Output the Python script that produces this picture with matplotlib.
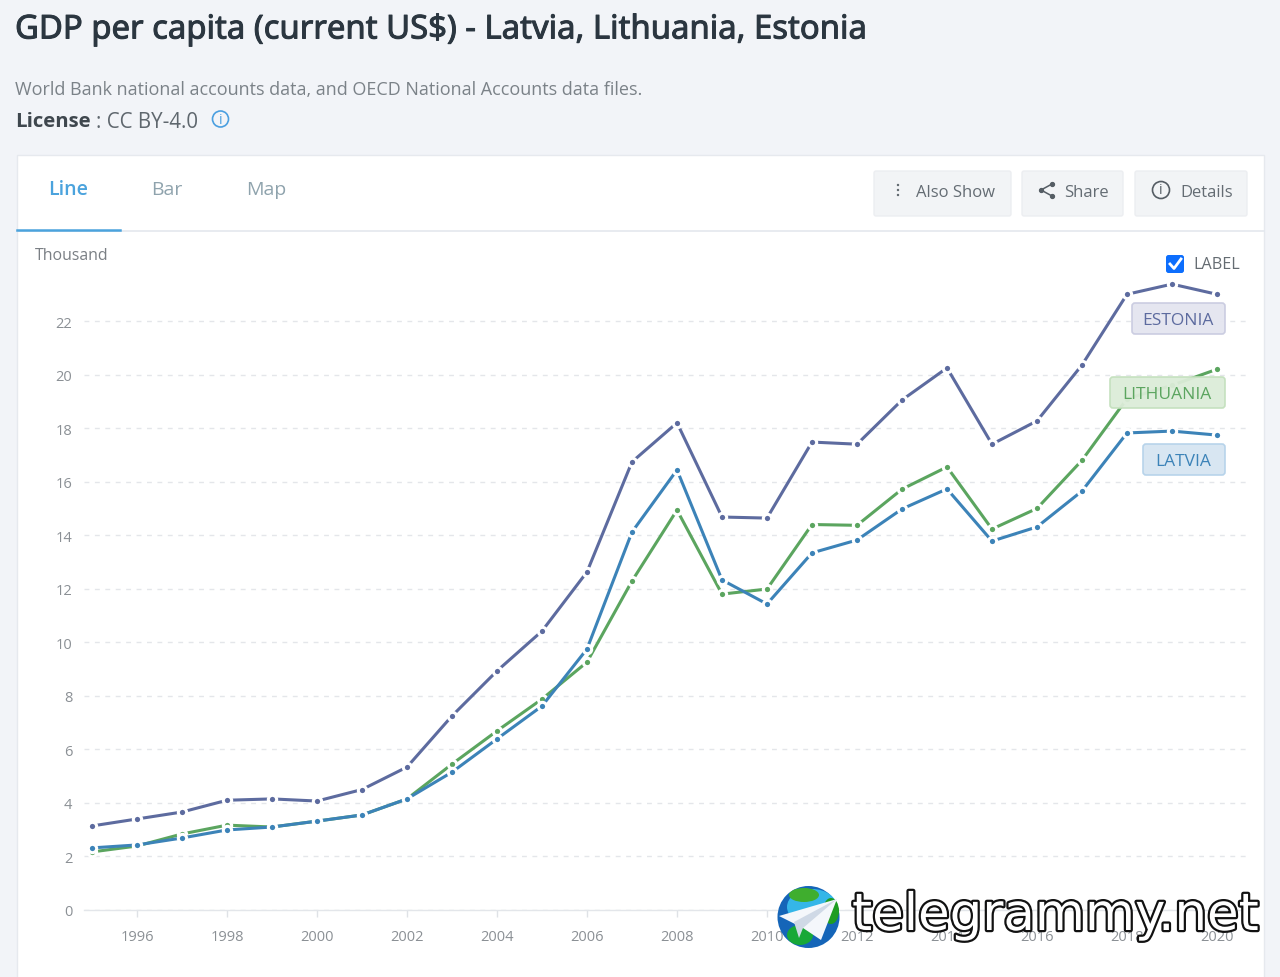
import matplotlib
matplotlib.use("Agg")
import matplotlib.pyplot as plt
import matplotlib.patheffects as pe
from matplotlib.patches import FancyBboxPatch, Rectangle, Circle, Polygon, Ellipse
from matplotlib.lines import Line2D

years = list(range(1995, 2021))
estonia = [3.14, 3.40, 3.66, 4.10, 4.15, 4.07, 4.50, 5.34, 7.25, 8.93, 10.42, 12.63, 16.74,
           18.20, 14.68, 14.64, 17.48, 17.40, 19.05, 20.25, 17.40, 18.27, 20.36, 23.00, 23.38, 23.00]
lithuania = [2.17, 2.39, 2.84, 3.17, 3.10, 3.32, 3.55, 4.15, 5.45, 6.69, 7.88, 9.26, 12.29,
             14.94, 11.80, 11.99, 14.40, 14.37, 15.72, 16.55, 14.23, 15.00, 16.80, 19.10, 19.60, 20.20]
latvia = [2.32, 2.43, 2.69, 2.99, 3.10, 3.32, 3.55, 4.15, 5.15, 6.39, 7.62, 9.75, 14.12,
          16.44, 12.33, 11.43, 13.34, 13.82, 14.98, 15.73, 13.78, 14.31, 15.65, 17.82, 17.89, 17.74]
x_ticks = list(range(1996, 2021, 2))
y_ticks = list(range(0, 23, 2))

W, H = 1280, 978
BG = "#f2f4f8"
UI = "Open Sans"
plt.rcParams["font.family"] = [UI, "DejaVu Sans"]

fig = plt.figure(figsize=(W / 100, H / 100), dpi=100, facecolor=BG)

# page layer in pixel coordinates
page = fig.add_axes([0, 0, 1, 1], zorder=0)
page.set_xlim(0, W); page.set_ylim(H, 0); page.axis("off")
page.add_patch(Rectangle((17, 156), 1247, 830, fc="white", ec="#e6e9ee", lw=1))
page.plot([17, 1264], [232, 232], color="#e4e8ee", lw=1.2)
page.plot([17, 120], [230.5, 230.5], color="#4ba3dd", lw=1.8)

page.text(15, 31, "GDP per capita (current US$) - Latvia, Lithuania, Estonia", fontsize=23.65,
          color="#2b3640", va="center", ha="left", family="Noto Sans",
          path_effects=[pe.withStroke(linewidth=0.7, foreground="#2b3640")])
page.text(15, 90, "World Bank national accounts data, and OECD National Accounts data files.",
          fontsize=13.0, color="#7b8288", va="center")
page.text(15, 122, "License", fontsize=14.7, fontweight="bold", color="#3f474e", va="center")
page.text(96, 122, ": CC BY-4.0", fontsize=14.8, color="#5f676e", va="center")
page.add_patch(Circle((220.5, 120), 8, fc="none", ec="#4b9fe0", lw=1.2))
page.text(220.5, 120, "i", fontsize=10, color="#4b9fe0", ha="center", va="center")

page.text(68, 190, "Line", fontsize=14, fontweight=600, color="#4ba3dd", ha="center", va="center")
page.text(167, 190, "Bar", fontsize=14, color="#8fa3ad", ha="center", va="center")
page.text(266, 190, "Map", fontsize=14, color="#8fa3ad", ha="center", va="center")
page.text(35, 256, "Thousand", fontsize=11.4, color="#7a7f84", va="center")

for x0, x1 in [(873, 1012), (1021, 1124), (1134, 1248)]:
    page.add_patch(FancyBboxPatch((x0 + 1, 172), x1 - x0 - 2, 45, boxstyle="round,pad=0,rounding_size=2",
                                  fc="#f2f4f6", ec="#eceef1", lw=1))
for yy in (186, 191, 196):
    page.add_patch(Circle((898, yy), 1.2, fc="#5f676e", ec="none"))
page.text(916, 193, "Also Show", fontsize=12, color="#646c73", va="center")
share_pts = [(1052, 185), (1041, 191), (1052, 197)]
page.add_line(Line2D(*zip(*share_pts), color="#555d64", lw=1.1, marker="o", ms=2.8))
page.text(1064, 193, "Share", fontsize=12, color="#646c73", va="center")
page.add_patch(Circle((1161, 191), 8.5, fc="none", ec="#555d64", lw=1.2))
page.text(1161, 191, "i", fontsize=10, color="#555d64", ha="center", va="center")
page.text(1180, 193, "Details", fontsize=12, color="#646c73", va="center")

# chart, placed so that its scales fall on the reference's pixels
L, R, B, T = 84, 1248, 911, 240
px_per_year = 45.0
px_per_unit = 26.77
ax = fig.add_axes([L / W, 1 - B / H, (R - L) / W, (B - T) / H], zorder=1)
ax.patch.set_alpha(0)
ax.set_xlim(1995 - (92 - L) / px_per_year, 2020 + (R - 1217) / px_per_year)
ax.set_ylim(0, (B - T) / px_per_unit)
for s in ("top", "right", "left"):
    ax.spines[s].set_visible(False)
ax.spines["bottom"].set_color("#e3e6ea")
ax.spines["bottom"].set_linewidth(1)
ax.set_xticks(x_ticks)
ax.set_yticks(y_ticks)
ax.tick_params(axis="x", length=5, width=1, color="#dfe2e6", labelcolor="#8b9095", labelsize=10.5, pad=8.5)
ax.tick_params(axis="y", length=0, labelcolor="#8b9095", labelsize=10.5, pad=8.5)
ax.grid(axis="y", color="#e4e6ea", lw=1, ls=(0, (3.5, 4)))
ax.grid(axis="x", visible=False)
ax.set_axisbelow(True)
for vals, col in [(estonia, "#5d6b9f"), (lithuania, "#5ba55f"), (latvia, "#3c83b8")]:
    ax.plot(years, vals, color=col, lw=2.2, solid_joinstyle="round", marker="o", ms=6.0,
            mfc=col, mec="white", mew=2.2, clip_on=False)

# labels and watermark above the chart
top = fig.add_axes([0, 0, 1, 1], zorder=2)
top.set_xlim(0, W); top.set_ylim(H, 0); top.axis("off"); top.patch.set_alpha(0)
for name, x0, x1, y0, y1, fc, ec, tc in [
    ("ESTONIA", 1132, 1225, 304, 335, "#e4e5f0", "#c9cbe0", "#5d6b9f"),
    ("LITHUANIA", 1110, 1225, 378, 409, "#dcecd8", "#c3e0bd", "#5ba55f"),
    ("LATVIA", 1143, 1225, 445, 476, "#d6e5f2", "#b5d2ea", "#3c83b8"),
]:
    top.add_patch(FancyBboxPatch((x0, y0), x1 - x0, y1 - y0, boxstyle="round,pad=0,rounding_size=3",
                                 fc=fc, ec=ec, lw=1.2, alpha=0.95))
    top.text((x0 + x1) / 2 - 1, (y0 + y1) / 2 + 1.5, name, fontsize=12.5, color=tc, ha="center", va="center")

top.add_patch(FancyBboxPatch((1166, 256), 18, 18, boxstyle="round,pad=0,rounding_size=2.5", fc="#0d6efd", ec="none"))
top.add_line(Line2D([1170, 1174, 1181], [265, 269.5, 260], color="white", lw=2))
top.text(1193, 265, "LABEL", fontsize=11.6, color="#656c72", va="center")

top.add_patch(Circle((808.5, 918), 31, fc="#1565b8", ec="none"))
top.add_patch(Ellipse((812, 908), 50, 36, fc="#35b6e8", ec="none"))
top.add_patch(Ellipse((804, 896), 30, 14, fc="#3fae2e", ec="none"))
top.add_patch(Ellipse((831, 912), 16, 26, fc="#1f9d22", ec="none"))
top.add_patch(Ellipse((800, 936), 26, 20, fc="#18a838", ec="none"))
top.add_patch(Polygon([(779, 917), (837, 900), (821, 941), (803, 929)], fc="#f4f7fb", ec="none"))
top.add_patch(Polygon([(794, 923), (837, 900), (803, 929), (799, 939)], fc="#cfd9e6", ec="none"))

top.text(852, 917, "telegrammy.net", fontsize=37.0, color="white", va="center", ha="left",
         family="DejaVu Sans",
         path_effects=[pe.withStroke(linewidth=3.2, foreground="#111111")])

fig.savefig("out.png", dpi=100, facecolor=BG)
